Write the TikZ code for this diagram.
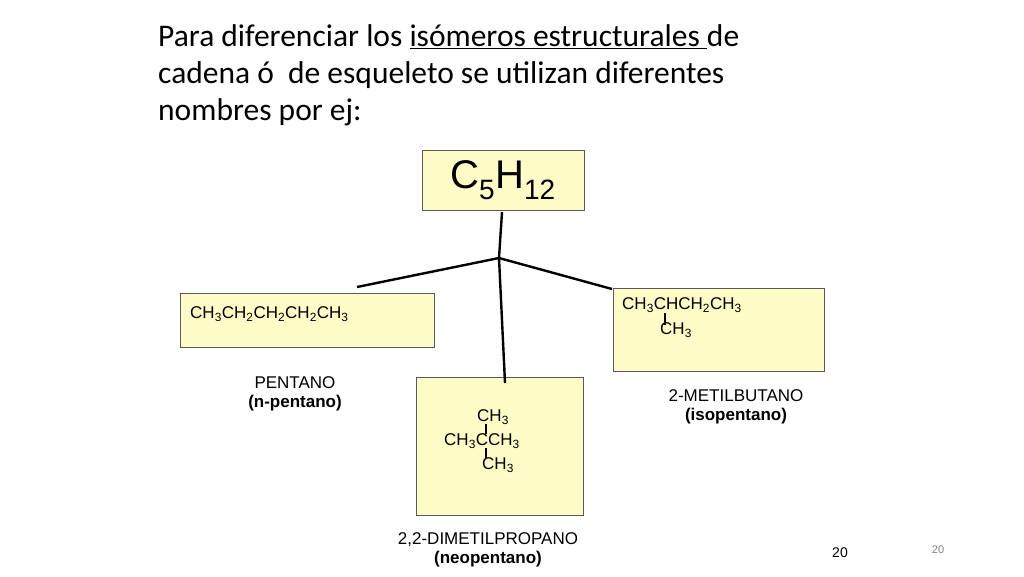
\documentclass[tikz,border=0pt]{standalone}
\usepackage{fontspec}
\setmainfont{Liberation Sans}
\newfontfamily\calfont{Carlito}
\newcommand{\sbs}[1]{\textsubscript{#1}}
\begin{document}
\begin{tikzpicture}[x=1pt,y=-1pt,
 box/.style={draw=gray!70!black,fill=yellow!22,line width=0.8pt,inner sep=0pt,anchor=north west},
 lbl/.style={font=\fontsize{17}{19}\selectfont,align=center},
 chem/.style={font=\fontsize{17}{19}\selectfont,anchor=west,inner sep=0pt},
 con/.style={line width=2.4pt,black}]
\useasboundingbox (0,0) rectangle (1024,576);
\node[anchor=north west,align=left,font=\calfont\fontsize{31.5}{37}\selectfont,inner sep=0pt] (title) at (158,24)
 {Para diferenciar los \underline{isómeros estructurales }de\\cadena ó\ \ de esqueleto se utilizan diferentes\\nombres por ej:};
\node[box,minimum width=162,minimum height=60] (top) at (422,150) {};
\node[font=\fontsize{40}{44}\selectfont] at (503,180) {C\sbs{5}H\sbs{12}};
\node[box,minimum width=254,minimum height=54] (pent) at (180,293) {};
\node[box,minimum width=167,minimum height=138] (neo) at (416,377) {};
\node[box,minimum width=211,minimum height=83] (iso) at (613,288) {};
\coordinate (j) at (499,258);
\coordinate (a) at (502,212);
\draw[con] (a) -- (j);
\draw[con] (j) -- (357,287);
\draw[con] (j) -- (505,383);
\draw[con] (j) -- (612,289);
\node[chem] (pf) at (190,314) {CH\sbs{3}CH\sbs{2}CH\sbs{2}CH\sbs{2}CH\sbs{3}};
\node[chem] (if) at (622,305) {CH\sbs{3}CHCH\sbs{2}CH\sbs{3}};
\node[chem] (if2) at (660,330) {CH\sbs{3}};
\draw[line width=1.2pt] (665,313) -- (665,325);
\node[chem] (n1) at (477,417) {CH\sbs{3}};
\node[chem] (n2) at (444,441) {CH\sbs{3}CCH\sbs{3}};
\node[chem] (n3) at (482,465) {CH\sbs{3}};
\draw[line width=1.2pt] (486,424) -- (486,434);
\draw[line width=1.2pt] (486,448) -- (486,458);
\node[lbl] (lp) at (295,394) {PENTANO\\\textbf{(n-pentano)}};
\node[lbl] (li) at (736,407) {2-METILBUTANO\\\textbf{(isopentano)}};
\node[lbl] (ln) at (488,550) {2,2-DIMETILPROPANO\\\textbf{(neopentano)}};
\node[font=\fontsize{14}{16}\selectfont] (p1) at (840,553) {20};
\node[font=\fontsize{11}{13}\selectfont,text=gray] (p2) at (938,550) {20};
\end{tikzpicture}
\end{document}
